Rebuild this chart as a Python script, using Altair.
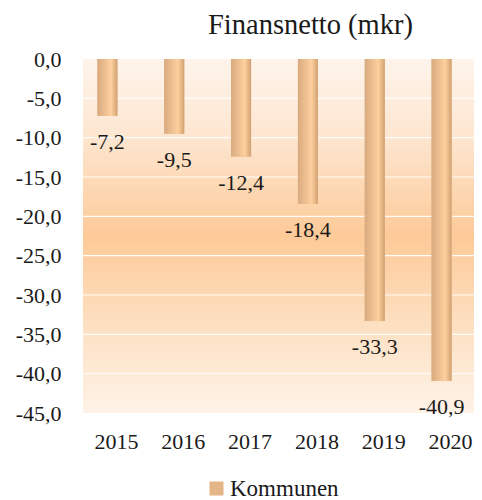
import altair as alt
import pandas as pd

years = ["2015", "2016", "2017", "2018", "2019", "2020"]
values = [-7.2, -9.5, -12.4, -18.4, -33.3, -40.9]
series = ["Kommunen"] * 6
y_ticks = [0, -5, -10, -15, -20, -25, -30, -35, -40, -45]
grid_vals = [-5, -10, -15, -20, -25, -30, -35, -40]

df = pd.DataFrame({"year": years, "value": values, "series": series})
grid_df = pd.DataFrame({"v": grid_vals})

FONT = "Liberation Serif"
TXT = "#1a1a1a"
fmt = "replace(replace(format({}, '.1f'), '.', ','), '\u2212', '-')"

yscale = alt.Scale(domain=[-45, 0], nice=False, zero=False)
yaxis = alt.Axis(title=None, values=y_ticks, ticks=False, domain=False,
                 grid=False, labelFont=FONT, labelFontSize=22,
                 labelColor=TXT, labelPadding=22,
                 labelExpr=fmt.format("datum.value"))
xenc = alt.X("year:N", sort=years,
             scale=alt.Scale(paddingInner=0, paddingOuter=0, range=[0, 401]),
             axis=alt.Axis(title=None, labelAngle=0, ticks=False, domain=False,
                           labelFont=FONT, labelFontSize=22, labelColor=TXT,
                           labelPadding=18))

bg_grad = alt.LinearGradient(
    gradient="linear", x1=0, x2=0, y1=0, y2=1,
    stops=[alt.GradientStop(color="#fef4eb", offset=0),
           alt.GradientStop(color="#fde6d0", offset=0.22),
           alt.GradientStop(color="#fdca98", offset=0.5),
           alt.GradientStop(color="#fde2c6", offset=0.78),
           alt.GradientStop(color="#fef2e7", offset=1)])

bar_grad = alt.LinearGradient(
    gradient="linear", x1=0, x2=1, y1=0, y2=0,
    stops=[alt.GradientStop(color="#d8aa7f", offset=0),
           alt.GradientStop(color="#fdd09d", offset=0.68),
           alt.GradientStop(color="#d2a173", offset=1)])

background = alt.Chart(df).mark_rect(color=bg_grad).encode(
    x=alt.value(0), x2=alt.value("width"),
    y=alt.datum(0, type="quantitative", scale=yscale, axis=yaxis),
    y2=alt.datum(-45),
)

grid = alt.Chart(grid_df).mark_rule(color="#ffffff", strokeWidth=1.2, opacity=0.9).encode(
    y=alt.Y("v:Q", scale=yscale, axis=yaxis)
)

legend_bars = alt.Chart(df).mark_bar(size=20, xOffset=-9).encode(
    x=xenc,
    y=alt.Y("value:Q", scale=yscale, axis=yaxis),
    color=alt.Color("series:N", scale=alt.Scale(range=["#e3b587"]),
                    legend=alt.Legend(title=None, orient="none", legendX=122, legendY=418,
                                      symbolType="square", labelOffset=2,
                                      symbolSize=196, symbolStrokeWidth=0,
                                      labelFont=FONT, labelFontSize=23,
                                      labelColor=TXT)),
)

bars = alt.Chart(df).mark_bar(size=20, xOffset=-9, color=bar_grad).encode(
    x=xenc,
    y=alt.Y("value:Q", scale=yscale, axis=yaxis),
)

labels = alt.Chart(df).transform_calculate(
    label=fmt.format("datum.value")
).mark_text(font=FONT, fontSize=22, color=TXT, baseline="middle", dy=26, xOffset=-9).encode(
    x=xenc,
    y=alt.Y("value:Q", scale=yscale, axis=yaxis),
    text="label:N",
)

chart = alt.layer(background, grid, legend_bars, bars, labels).properties(
    width=391, height=354,
    title=alt.TitleParams("Finansnetto (mkr)", font=FONT, fontSize=28.5, fontWeight="normal",
                          color=TXT, baseline="alphabetic", offset=-14, dx=32),
    autosize=alt.AutoSizeParams(type="none"),
    padding={"left": 75, "top": 51, "right": 0, "bottom": 87},
).configure_view(stroke=None)

chart.save("out.html", embed_options={"renderer": "svg", "actions": False})
